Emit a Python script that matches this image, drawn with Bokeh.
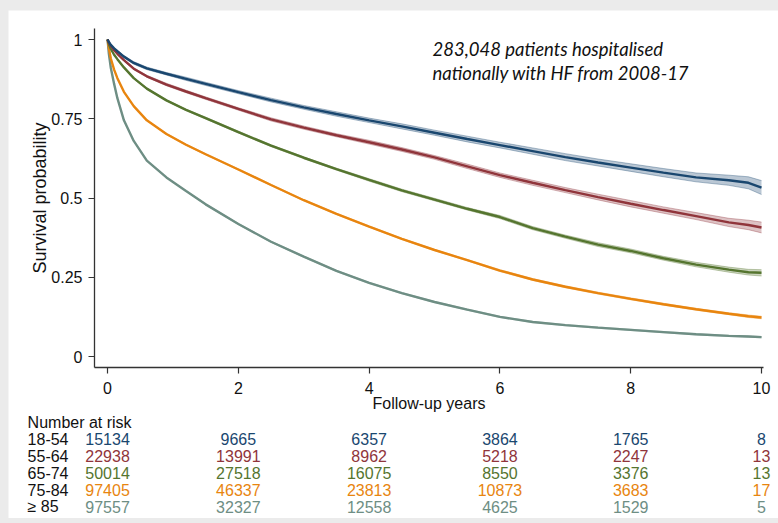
from bokeh.plotting import figure
from bokeh.models import Range1d, Label, FixedTicker, GlobalInlineStyleSheet
from bokeh.core.properties import value
from bokeh.embed import file_html
from bokeh.resources import INLINE

# ---- data ----
t = [0, 0.02, 0.05, 0.1, 0.15, 0.25, 0.4, 0.6, 0.9, 1.2, 1.5, 2.0, 2.5, 3.0, 3.5, 4.0, 4.5,
     5.0, 5.5, 6.0, 6.5, 7.0, 7.5, 8.0, 8.5, 9.0, 9.5, 9.8, 10]

s_18_54 = [1, 0.992, 0.983, 0.972, 0.963, 0.946, 0.926, 0.909, 0.892, 0.876, 0.860, 0.834, 0.809, 0.786, 0.765,
           0.745, 0.726, 0.706, 0.686, 0.667, 0.648, 0.629, 0.612, 0.596, 0.580, 0.565, 0.556, 0.548, 0.533]
s_55_64 = [1, 0.990, 0.980, 0.966, 0.955, 0.935, 0.908, 0.884, 0.858, 0.836, 0.815, 0.781, 0.748, 0.722, 0.698,
           0.676, 0.653, 0.628, 0.600, 0.572, 0.548, 0.525, 0.503, 0.482, 0.462, 0.443, 0.423, 0.415, 0.407]
s_65_74 = [1, 0.985, 0.970, 0.952, 0.938, 0.912, 0.878, 0.845, 0.808, 0.778, 0.752, 0.708, 0.665, 0.627, 0.591,
           0.557, 0.524, 0.495, 0.466, 0.440, 0.405, 0.378, 0.353, 0.333, 0.310, 0.290, 0.274, 0.266, 0.264]
s_75_84 = [1, 0.972, 0.940, 0.905, 0.878, 0.835, 0.790, 0.745, 0.702, 0.668, 0.638, 0.590, 0.541, 0.493, 0.450,
           0.410, 0.371, 0.336, 0.304, 0.271, 0.243, 0.220, 0.200, 0.182, 0.165, 0.149, 0.135, 0.127, 0.123]
s_85 = [1, 0.955, 0.910, 0.860, 0.815, 0.745, 0.680, 0.618, 0.565, 0.522, 0.480, 0.418, 0.362, 0.315, 0.270,
        0.232, 0.200, 0.172, 0.148, 0.125, 0.109, 0.099, 0.091, 0.084, 0.077, 0.070, 0.065, 0.063, 0.061]

# half-widths of the 95% confidence bands
ci_18_54 = [0, .001, .002, .002, .003, .003, .004, .004, .004, .005, .005, .005, .006, .006, .007,
            .007, .008, .008, .009, .009, .010, .011, .011, .012, .013, .014, .016, .019, .022]
ci_55_64 = [0, .001, .001, .002, .002, .003, .003, .003, .004, .004, .004, .004, .005, .005, .005,
            .006, .006, .006, .007, .007, .008, .008, .009, .010, .010, .011, .013, .015, .017]
ci_65_74 = [0, .001, .001, .001, .001, .002, .002, .002, .002, .002, .003, .003, .003, .003, .003,
            .004, .004, .004, .004, .005, .005, .005, .006, .006, .006, .007, .008, .009, .010]
ci_75_84 = [0, .001, .001, .001, .001, .001, .001, .001, .002, .002, .002, .002, .002, .002, .002,
            .002, .002, .002, .002, .003, .003, .003, .003, .003, .003, .003, .003, .004, .004]
ci_85 = [0, .001, .001, .001, .001, .001, .001, .001, .001, .001, .002, .002, .002, .002, .002,
         .002, .002, .002, .002, .002, .002, .002, .002, .002, .002, .002, .002, .002, .002]

groups = ["18-54", "55-64", "65-74", "75-84", "\u2265 85"]
colors = ["#1a476f", "#90353b", "#55752f", "#e8850f", "#6e8e84"]

risk_times = [0, 2, 4, 6, 8, 10]
n_18_54 = [15134, 9665, 6357, 3864, 1765, 8]
n_55_64 = [22938, 13991, 8962, 5218, 2247, 13]
n_65_74 = [50014, 27518, 16075, 8550, 3376, 13]
n_75_84 = [97405, 46337, 23813, 10873, 3683, 17]
n_85 = [97557, 32327, 12558, 4625, 1529, 5]

x_ticks = [0, 2, 4, 6, 8, 10]
y_ticks = [0, 0.25, 0.5, 0.75, 1]
y_tick_labels = ["0", "0.25", "0.5", "0.75", "1"]

note_lines = ["283,048 patients hospitalised", "nationally with HF from 2008-17"]

surv = [s_18_54, s_55_64, s_65_74, s_75_84, s_85]
cis = [ci_18_54, ci_55_64, ci_65_74, ci_75_84, ci_85]
risks = [n_18_54, n_55_64, n_65_74, n_75_84, n_85]

FONT = "Liberation Sans"

# axis extents (data units) and the wider frame that also holds the risk table
AX_X = (-0.2, 10.03)
AX_Y = (-0.035, 1.035)
W, H = 770, 508
X_RANGE = (-1.515, 10.26)
Y_RANGE = (-0.511, 1.0915)

p = figure(width=W, height=H, output_backend="svg", toolbar_location=None,
           x_range=Range1d(*X_RANGE), y_range=Range1d(*Y_RANGE),
           min_border_left=0, min_border_right=0, min_border_top=0, min_border_bottom=0)
p.margin = (10, 0, 0, 8)
p.stylesheets.append(GlobalInlineStyleSheet(css="body{background:#ebebeb;}"))
p.background_fill_color = "white"
p.border_fill_color = "white"
p.outline_line_color = None
p.grid.grid_line_color = None

for ax in (p.xaxis, p.yaxis):
    ax.axis_line_color = "#333333"
    ax.axis_line_width = 1.3
    ax.major_tick_line_color = "#333333"
    ax.major_tick_line_width = 1.2
    ax.major_tick_out = 6
    ax.major_tick_in = 0
    ax.minor_tick_line_color = None
    ax.major_label_text_font = FONT
    ax.major_label_text_font_size = "16px"
    ax.major_label_text_color = "#111111"
    ax.axis_label_text_font = FONT
    ax.axis_label_text_font_style = "normal"
    ax.axis_label_text_color = "#111111"

p.xaxis.fixed_location = AX_Y[0]
p.xaxis.bounds = AX_X
p.yaxis.fixed_location = AX_X[0]
p.yaxis.bounds = AX_Y
p.xaxis.ticker = FixedTicker(ticks=x_ticks)
p.yaxis.ticker = FixedTicker(ticks=y_ticks)
p.yaxis.major_label_overrides = {v: s for v, s in zip(y_ticks, y_tick_labels)}
p.xaxis.axis_label = "Follow-up years"
p.yaxis.axis_label = "Survival probability"
p.xaxis.axis_label_text_font_size = "16px"
p.yaxis.axis_label_text_font_size = "18px"
p.xaxis.major_label_standoff = 8
p.xaxis.axis_label_standoff = -2
p.yaxis.major_label_standoff = 6
p.yaxis.axis_label_standoff = -2

# curves, back to front
for s, ci, c in reversed(list(zip(surv, cis, colors))):
    lo = [a - b for a, b in zip(s, ci)]
    hi = [a + b for a, b in zip(s, ci)]
    p.varea(x=t, y1=lo, y2=hi, fill_color=c, fill_alpha=0.3)
    p.line(t, lo, line_color=c, line_alpha=0.35, line_width=1)
    p.line(t, hi, line_color=c, line_alpha=0.35, line_width=1)
    p.line(t, s, line_color=c, line_width=2.4)

# annotation
for i, line in enumerate(note_lines):
    p.add_layout(Label(x=4.968, y=0.9716 - i * 0.0757, text=line, text_font="Lato",
                       text_font_style="italic", text_font_size="18.5px", text_color="#111111",
                       text_align="left", text_baseline="middle"))

# number-at-risk table
row_x = -1.223
row_y0 = -0.2596
row_step = 0.0534
p.text(x=[row_x], y=[-0.2082], text=["Number at risk"], text_font=value(FONT),
       text_font_size="16px", text_color="#111111", text_align="left", text_baseline="middle")
for r, (g, n, c) in enumerate(zip(groups, risks, colors)):
    yy = row_y0 - r * row_step
    p.text(x=[row_x], y=[yy], text=[g], text_font=value(FONT), text_font_size="16px",
           text_color="#111111", text_align="left", text_baseline="middle")
    p.text(x=risk_times, y=[yy] * len(risk_times), text=[str(v) for v in n], text_font=value(FONT),
           text_font_size="16px", text_color=c, text_align="center", text_baseline="middle")

open("out.html", "w").write(file_html(p, INLINE))
